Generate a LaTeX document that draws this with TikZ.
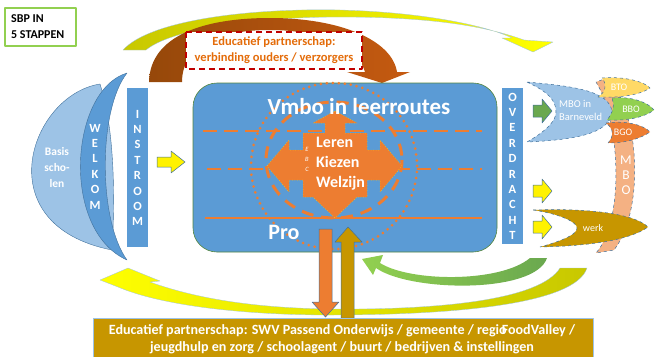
\documentclass[tikz,border=0pt]{standalone}
\usepackage{fontspec}
\setmainfont{Carlito}
\usetikzlibrary{positioning}
\definecolor{vmboblue}{RGB}{91,155,213}
\definecolor{paleblue}{RGB}{157,195,230}
\definecolor{edgeblue}{RGB}{65,113,156}
\definecolor{vorange}{RGB}{237,125,49}
\definecolor{ochre}{RGB}{199,150,0}
\definecolor{olivey}{RGB}{200,200,0}
\definecolor{lightgreen}{RGB}{146,208,80}
\definecolor{darkgreen}{RGB}{106,168,79}
\definecolor{btoyellow}{RGB}{255,217,102}
\definecolor{salmon}{RGB}{244,177,131}
\definecolor{darkbrown}{RGB}{150,72,10}
\definecolor{rust}{RGB}{197,90,17}
\definecolor{textorange}{RGB}{228,108,10}
\definecolor{darkred}{RGB}{192,0,0}
\begin{document}
\begin{tikzpicture}[x=1pt,y=-1pt,line join=round,
    letter/.style={text=white,inner sep=0pt,font=\bfseries\fontsize{12.5}{12.5}\selectfont},
    wtext/.style={text=white,inner sep=0pt,align=center},
    leaf/.style={draw=edgeblue,dashed,line width=0.5pt},
    blockarrow/.style={draw=edgeblue,line width=0.5pt},
    orangedash/.style={vorange,line width=2pt,dash pattern=on 14pt off 7pt}]
\useasboundingbox (0,0) rectangle (655,356);
% kader linksboven
\draw[lightgreen,line width=2.5pt,fill=white] (5,8) rectangle (76,46);
\node[anchor=west,inner sep=0pt,align=left,font=\bfseries\fontsize{12}{16}\selectfont] (sbp) at (11,27) {SBP IN\\5 STAPPEN};
% bogen buiten
\shade[left color=yellow,right color=olivey,draw=paleblue,line width=0.3pt] (100,280) -- (128,268) -- (160,281) -- (150,282) .. controls (200,300) and (260,308) .. (330,309) .. controls (440,310) and (540,300) .. (560,268) -- (587,268) .. controls (575,305) and (450,315) .. (330,315) .. controls (240,315) and (160,305) .. (118,287) -- cycle;
\shade[left color=olivey,right color=yellow,draw=paleblue,line width=0.3pt] (123,50) .. controls (150,20) and (250,8) .. (340,10) .. controls (420,12) and (485,25) .. (512,38) -- (502,38) -- (533,52) -- (553,42) -- (524,40) .. controls (480,24) and (420,17) .. (340,17) .. controls (250,17) and (170,30) .. (146,50) -- cycle;
% ouders
\shade[left color=darkbrown,right color=rust] (149,82) .. controls (150,35) and (205,18) .. (270,18) .. controls (340,18) and (392,40) .. (397,72) -- (410,72) -- (382,83) -- (347,72) -- (365,72) .. controls (358,47) and (320,30) .. (270,30) .. controls (215,30) and (182,48) .. (182,82) -- cycle;
\draw[darkred,line width=1.5pt,dash pattern=on 6pt off 4pt,fill=white] (186,32) rectangle (362,69);
\node[text=textorange,font=\bfseries\fontsize{12.5}{16}\selectfont,align=center,inner sep=0pt] (ouders) at (274,50) {Educatief partnerschap:\\verbinding ouders / verzorgers};
% basisscholen en welkom
\filldraw[fill=paleblue,draw=edgeblue,line width=0.4pt] (100,84) .. controls (30,95) and (-15,225) .. (112,250) .. controls (115,200) and (115,130) .. (100,84) -- cycle;
\filldraw[fill=vmboblue,draw=edgeblue,line width=0.4pt] (127,73) .. controls (70,90) and (60,230) .. (127,260) .. controls (98,220) and (98,110) .. (127,73) -- cycle;
\node[wtext,font=\bfseries\fontsize{11.5}{16}\selectfont] (basis) at (57,168) {Basis\\scho-\\len};
\foreach \ch [count=\i from 0] in {W,E,L,K,O,M}
  \node[letter] (welkom\i) at (95,128+15.4*\i) {\ch};
% instroom
\fill[vmboblue] (127,88) rectangle (148,247);
\foreach \ch [count=\i from 0] in {I,N,S,T,R,O,O,M}
  \node[letter] (instroom\i) at (137.5,114+15.4*\i) {\ch};
\filldraw[fill=yellow,blockarrow,shift={(157,162)}] (0,-5) -- (14,-5) -- (14,-11) -- (28,0) -- (14,11) -- (14,5) -- (0,5) -- cycle;
% vmbo
\filldraw[fill=vmboblue,draw=darkgreen!80!black,line width=0.6pt,rounded corners=24pt] (193,83) rectangle (497,252);
\draw[orangedash] (203,131) -- (482,131);
\draw[orangedash] (207,169) -- (482,169);
\draw[vorange,line width=1.8pt] (205,218) -- (482,218);
\draw[vorange,line width=3pt,line cap=round,dash pattern=on 0pt off 6pt] (334,166) circle[radius=83];
\draw[vorange,line width=3pt,dash pattern=on 12pt off 8pt] (334,160) ellipse[x radius=68,y radius=58];
\filldraw[fill=vorange,draw=yellow!80!orange,line width=0.5pt,dotted] (335,111) -- (357,123) -- (345,123) -- (345,133) -- (367,133) -- (367,150) -- (380,150) -- (380,140) -- (402,166) -- (380,192) -- (380,180) -- (367,180) -- (367,197) -- (357,197) -- (335,218) -- (313,197) -- (303,197) -- (303,180) -- (289,180) -- (289,192) -- (267,166) -- (289,140) -- (289,150) -- (303,150) -- (303,133) -- (325,133) -- (325,123) -- (313,123) -- cycle;
\node[wtext,font=\bfseries\fontsize{23}{23}\selectfont] (vmbo) at (359,107) {Vmbo in leerroutes};
\node[wtext,anchor=west,font=\bfseries\fontsize{16}{16}\selectfont] (leren) at (316,142) {Leren};
\node[wtext,anchor=west,font=\bfseries\fontsize{16}{16}\selectfont] (kiezen) at (316,162) {Kiezen};
\node[wtext,anchor=west,font=\bfseries\fontsize{16}{16}\selectfont] (welzijn) at (316,183) {Welzijn};
\foreach \ch [count=\i from 0] in {E,B,C}
  \node[wtext,font=\itshape\fontsize{6.5}{7}\selectfont] (ebc\i) at (307,149+10*\i) {\ch};
\node[wtext,font=\bfseries\fontsize{22}{22}\selectfont] (pro) at (284,232) {Pro};
% partners
\filldraw[fill=vorange,blockarrow] (319,229) -- (332,229) -- (332,302) -- (339,302) -- (325.5,317) -- (312,302) -- (319,302) -- cycle;
\filldraw[fill=ochre,blockarrow] (341,318) -- (341,242) -- (335,242) -- (348,227) -- (362,242) -- (354,242) -- (354,318) -- cycle;
\filldraw[fill=ochre,draw=paleblue,line width=1pt] (93,318) rectangle (593,360);
\node[wtext,font=\bfseries\fontsize{14.1}{17}\selectfont] (partners) at (342,339.5) {Educatief partnerschap: SWV Passend Onderwijs / gemeente / regio\kern-5pt FoodValley /\\jeugdhulp en zorg / schoolagent / buurt / bedrijven \& instellingen};
\shade[left color=lightgreen,right color=darkgreen] (362,259) -- (383,255) -- (380,263) .. controls (410,282) and (500,283) .. (530,258) -- (547,258) .. controls (535,294) and (410,292) .. (376,268) -- (373,275) -- cycle;
% overdracht
\fill[vmboblue] (502,88) rectangle (523,244);
\foreach \ch [count=\i from 0] in {O,V,E,R,D,R,A,C,H,T}
  \node[letter] (overdracht\i) at (512.5,97+15.4*\i) {\ch};
\filldraw[fill=darkgreen,blockarrow,shift={(533,111)}] (0,-6) -- (9,-6) -- (9,-12) -- (19,0) -- (9,12) -- (9,6) -- (0,6) -- cycle;
\foreach \yy in {191,227}
  \filldraw[fill=yellow,blockarrow,shift={(533,\yy)}] (0,-6) -- (9,-6) -- (9,-12) -- (19,0) -- (9,12) -- (9,6) -- (0,6) -- cycle;
% mbo
\filldraw[fill=salmon,leaf] (596,82) .. controls (620,120) and (625,220) .. (596,253) -- (614,250) .. controls (645,210) and (640,110) .. (607,78) -- cycle;
\foreach \ch [count=\i from 0] in {M,B,O}
  \node[wtext,font=\fontsize{13.5}{13.5}\selectfont] (mbo\i) at (626,160+15*\i) {\ch};
\filldraw[fill=paleblue,leaf] (527,82) .. controls (570,86) and (610,90) .. (612,112) .. controls (610,135) and (570,140) .. (527,142) .. controls (548,130) and (556,120) .. (556,112) .. controls (556,100) and (548,92) .. (527,82) -- cycle;
\node[wtext,anchor=west,align=left,font=\fontsize{10.5}{13}\selectfont] (barneveld) at (559,110) {MBO in\\Barneveld};
\filldraw[fill=btoyellow,leaf] (602,78) .. controls (625,76) and (645,82) .. (650,88) .. controls (640,95) and (620,98) .. (598,97) .. controls (606,92) and (607,84) .. (602,78) -- cycle;
\node[wtext,font=\fontsize{10}{10}\selectfont] (bto) at (619,87) {BTO};
\filldraw[fill=lightgreen,leaf] (612,98) .. controls (630,96) and (648,102) .. (654,110) .. controls (645,117) and (628,121) .. (607,120) .. controls (613,113) and (615,104) .. (612,98) -- cycle;
\node[wtext,font=\fontsize{10}{10}\selectfont] (bbo) at (631,109) {BBO};
\filldraw[fill=vorange,leaf] (606,123) .. controls (628,120) and (645,126) .. (650,132) .. controls (640,139) and (625,143) .. (608,143) .. controls (614,136) and (614,129) .. (606,123) -- cycle;
\node[wtext,font=\fontsize{10}{10}\selectfont] (bgo) at (623,132) {BGO};
\filldraw[fill=ochre,leaf] (533,210) .. controls (590,208) and (635,214) .. (648,227) .. controls (630,240) and (590,246) .. (540,247) .. controls (565,240) and (577,234) .. (577,228) .. controls (577,222) and (560,214) .. (533,210) -- cycle;
\node[wtext,font=\fontsize{10}{10}\selectfont] (werk) at (593,228) {werk};
\end{tikzpicture}
\end{document}
